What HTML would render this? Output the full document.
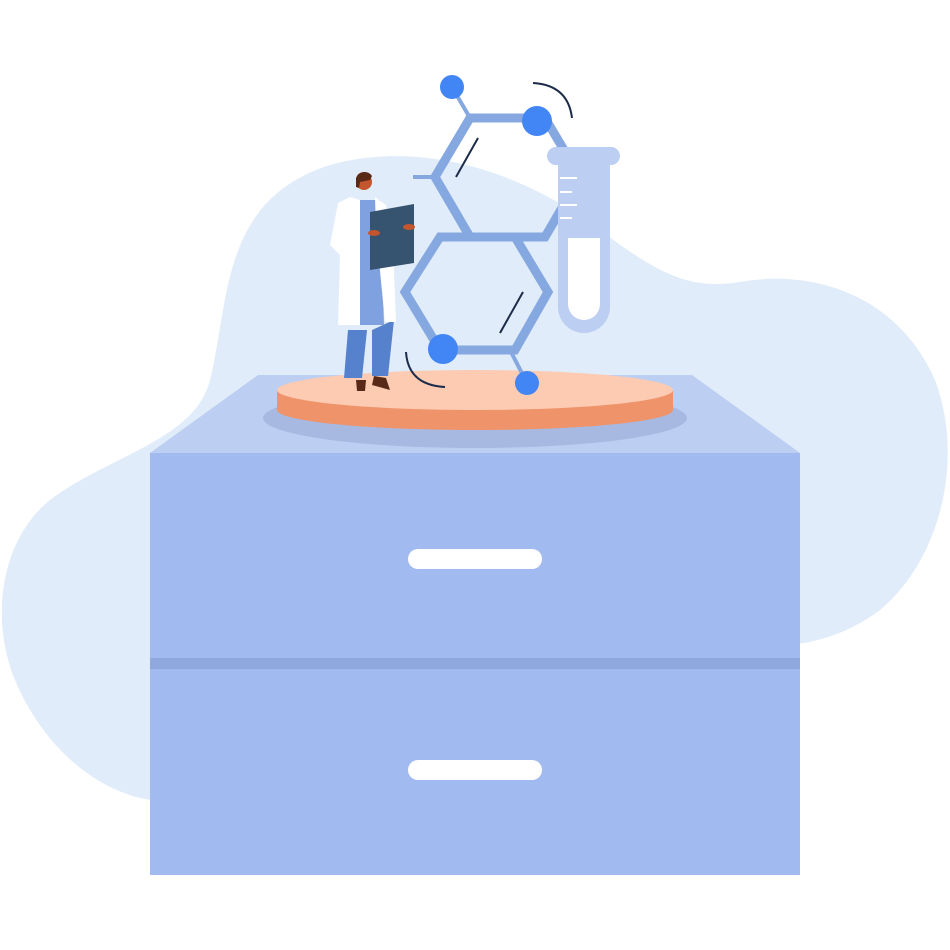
<!DOCTYPE html>
<html><head><style>html,body{margin:0;padding:0;background:#fff}svg{display:block}</style></head>
<body>
<svg width="950" height="950" viewBox="0 0 950 950" xmlns="http://www.w3.org/2000/svg">
<path d="M150,800 C90,790 40,740 15,680 C-10,620 0,540 50,500 C110,455 195,440 210,380 C230,300 220,200 330,165 C420,140 520,170 600,230 C660,275 690,290 740,282 C820,268 900,300 935,380 C965,460 940,560 880,610 C840,640 800,645 780,645 L780,800 Z" fill="#e0ecf9"/>
<!-- cabinet -->
<polygon points="258,375 692,375 800,453 150,453" fill="#bccef1"/>
<rect x="150" y="453" width="650" height="422" fill="#a1baf0"/>
<rect x="150" y="658" width="650" height="11" fill="#8fa9dc"/>
<rect x="408" y="549" width="134" height="20" rx="10" fill="#fff"/>
<rect x="408" y="760" width="134" height="20" rx="10" fill="#fff"/>
<!-- platform -->
<ellipse cx="475" cy="418" rx="212" ry="30" fill="#a7b9e0"/>
<path d="M277,390 L277,410 A198,20 0 0 0 673,410 L673,390 Z" fill="#ef936a"/>
<ellipse cx="475" cy="390" rx="198" ry="20" fill="#fccbb2"/>
<!-- molecule -->
<g stroke="#86a8e0" stroke-width="9" fill="none" stroke-linejoin="miter">
<polygon points="470,118 545,118 580,177 545,237 470,237 435,177"/>
<polygon points="440,237 515,237 548,292 515,350 440,350 405,292"/>
</g>
<g stroke="#86a8e0" stroke-width="4">
<line x1="452" y1="87" x2="470" y2="118"/><line x1="510" y1="350" x2="527" y2="383"/>
<line x1="413" y1="177" x2="435" y2="177"/>
</g>
<g stroke="#1c2b4a" stroke-width="2" fill="none">
<line x1="478" y1="138" x2="456" y2="177"/><line x1="523" y1="292" x2="500" y2="333"/>
<path d="M533,83 Q568,85 572,118"/><path d="M406,352 Q408,385 445,387"/>
</g>
<g fill="#4285f4">
<circle cx="452" cy="87" r="12"/><circle cx="537" cy="121" r="15"/>
<circle cx="443" cy="349" r="15"/><circle cx="527" cy="383" r="12"/>
</g>
<!-- tube -->
<path d="M558,160 L610,160 L610,307 A26,26 0 0 1 558,307 Z" fill="#bccff2"/>
<rect x="547" y="147" width="73" height="18" rx="9" fill="#bccff2"/>
<path d="M568,238 L600,238 L600,304 A16,16 0 0 1 568,304 Z" fill="#fff"/>
<g stroke="#fff" stroke-width="2"><line x1="560" y1="178" x2="577" y2="178"/><line x1="560" y1="192" x2="572" y2="192"/><line x1="560" y1="205" x2="577" y2="205"/><line x1="560" y1="218" x2="572" y2="218"/></g>
<!-- person -->
<path d="M348,330 L344,378 L362,378 L367,330 Z M372,330 L372,376 L388,376 L394,320 Z" fill="#5681cc"/>
<path d="M352,200 L380,200 L384,325 L348,325 Z" fill="#7fa1e0"/>
<path d="M350,197 L338,203 L330,245 L340,255 L338,325 L360,325 L360,200 Z M375,197 L386,205 L394,270 L396,322 L385,322 L376,230 Z" fill="#fff"/>
<circle cx="364" cy="182" r="8" fill="#c3562f"/>
<path d="M356,178 A9,9 0 0 1 372,176 L370,180 L360,182 L359,188 L356,187 Z" fill="#5a2a18"/>
<polygon points="370,212 414,204 414,263 370,270" fill="#36536f"/>
<ellipse cx="374" cy="233" rx="6" ry="3" fill="#c3562f"/><ellipse cx="409" cy="227" rx="6" ry="3" fill="#c3562f"/>
<path d="M356,380 L366,380 L365,391 L357,391 Z" fill="#5a2a18"/>
<path d="M374,376 L386,378 L390,390 L372,385 Z" fill="#5a2a18"/>
</svg>
</body></html>
